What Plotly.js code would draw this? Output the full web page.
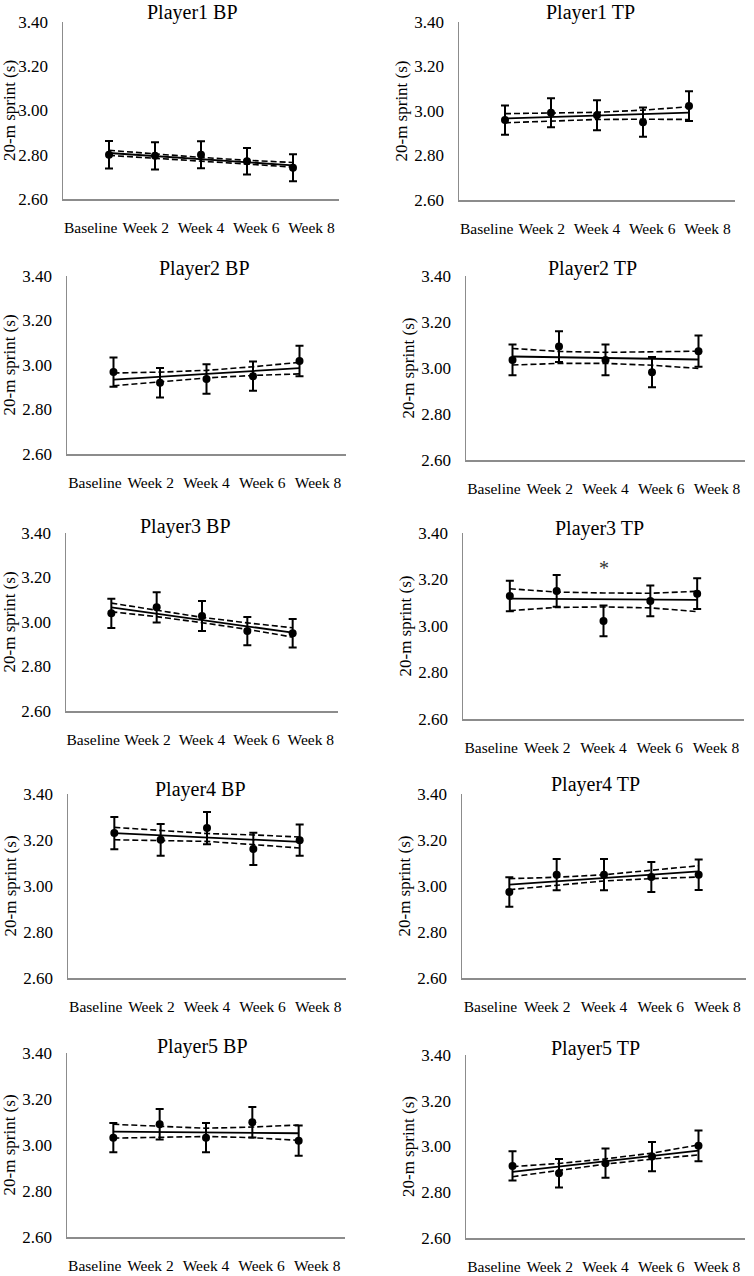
<!DOCTYPE html>
<html><head><meta charset="utf-8">
<script src="https://cdn.plot.ly/plotly-3.0.1.min.js"></script>
<style>html,body{margin:0;padding:0;background:#fff}#chart{width:754px;height:1276px}</style>
</head><body><div id="chart"></div>
<script>
// ---------------- DATA ----------------
const categories = ['Baseline', 'Week 2', 'Week 4', 'Week 6', 'Week 8'];
const timepoints = [1, 2, 3, 4, 5];
const panelTitles = ['Player1 BP', 'Player1 TP', 'Player2 BP', 'Player2 TP', 'Player3 BP',
                     'Player3 TP', 'Player4 BP', 'Player4 TP', 'Player5 BP', 'Player5 TP'];
const yTickValues = [2.6, 2.8, 3.0, 3.2, 3.4];
const yAxisTitle = '20-m sprint (s)';

// Player1 BP
const p1bpMean  = [2.800, 2.795, 2.800, 2.771, 2.741];
const p1bpErr   = [0.062, 0.062, 0.061, 0.060, 0.061];
const p1bpFit   = [2.808, 2.794, 2.780, 2.766, 2.752];
const p1bpUpper = [2.820, 2.803, 2.788, 2.775, 2.765];
const p1bpLower = [2.797, 2.785, 2.772, 2.758, 2.744];
// Player1 TP
const p1tpMean  = [2.959, 2.992, 2.981, 2.950, 3.022];
const p1tpErr   = [0.066, 0.065, 0.067, 0.066, 0.067];
const p1tpFit   = [2.966, 2.973, 2.980, 2.986, 2.993];
const p1tpUpper = [2.988, 2.990, 2.994, 3.004, 3.019];
const p1tpLower = [2.947, 2.955, 2.962, 2.963, 2.962];
// Player2 BP
const p2bpMean  = [2.968, 2.920, 2.937, 2.950, 3.018];
const p2bpErr   = [0.066, 0.066, 0.066, 0.066, 0.068];
const p2bpFit   = [2.934, 2.947, 2.960, 2.973, 2.986];
const p2bpUpper = [2.964, 2.968, 2.976, 2.992, 3.012];
const p2bpLower = [2.907, 2.925, 2.942, 2.953, 2.960];
// Player2 TP
const p2tpMean  = [3.035, 3.093, 3.035, 2.982, 3.073];
const p2tpErr   = [0.067, 0.067, 0.067, 0.066, 0.068];
const p2tpFit   = [3.050, 3.047, 3.044, 3.040, 3.037];
const p2tpUpper = [3.085, 3.072, 3.068, 3.070, 3.073];
const p2tpLower = [3.013, 3.020, 3.020, 3.012, 2.998];
// Player3 BP
const p3bpMean  = [3.039, 3.066, 3.027, 2.959, 2.949];
const p3bpErr   = [0.066, 0.068, 0.067, 0.063, 0.064];
const p3bpFit   = [3.066, 3.038, 3.009, 2.981, 2.952];
const p3bpUpper = [3.085, 3.053, 3.021, 2.996, 2.974];
const p3bpLower = [3.046, 3.024, 2.997, 2.967, 2.932];
// Player3 TP
const p3tpMean  = [3.129, 3.151, 3.022, 3.108, 3.139];
const p3tpErr   = [0.066, 0.068, 0.066, 0.066, 0.066];
const p3tpFit   = [3.118, 3.116, 3.115, 3.113, 3.112];
const p3tpUpper = [3.160, 3.146, 3.142, 3.141, 3.149];
const p3tpLower = [3.066, 3.080, 3.082, 3.078, 3.062];
const p3tpMarkText = '*';
const p3tpMarkX = 3;
const p3tpMarkY = 3.25;
// Player4 BP
const p4bpMean  = [3.230, 3.201, 3.252, 3.161, 3.199];
const p4bpErr   = [0.070, 0.069, 0.070, 0.070, 0.068];
const p4bpFit   = [3.230, 3.221, 3.211, 3.202, 3.192];
const p4bpUpper = [3.255, 3.240, 3.228, 3.222, 3.213];
const p4bpLower = [3.201, 3.199, 3.194, 3.180, 3.165];
// Player4 TP
const p4tpMean  = [2.974, 3.049, 3.049, 3.039, 3.049];
const p4tpErr   = [0.064, 0.068, 0.068, 0.065, 0.066];
const p4tpFit   = [3.006, 3.020, 3.035, 3.049, 3.064];
const p4tpUpper = [3.032, 3.038, 3.049, 3.067, 3.088];
const p4tpLower = [2.984, 3.003, 3.022, 3.032, 3.039];
// Player5 BP
const p5bpMean  = [3.032, 3.090, 3.032, 3.099, 3.019];
const p5bpErr   = [0.064, 0.066, 0.064, 0.066, 0.066];
const p5bpFit   = [3.058, 3.056, 3.055, 3.053, 3.051];
const p5bpUpper = [3.090, 3.080, 3.073, 3.078, 3.087];
const p5bpLower = [3.030, 3.035, 3.037, 3.032, 3.020];
// Player5 TP
const p5tpMean  = [2.915, 2.883, 2.927, 2.956, 3.003];
const p5tpErr   = [0.064, 0.062, 0.064, 0.064, 0.067];
const p5tpFit   = [2.889, 2.912, 2.935, 2.958, 2.982];
const p5tpUpper = [2.912, 2.926, 2.946, 2.971, 3.007];
const p5tpLower = [2.868, 2.895, 2.923, 2.945, 2.963];

const panelMeans  = [p1bpMean, p1tpMean, p2bpMean, p2tpMean, p3bpMean, p3tpMean, p4bpMean, p4tpMean, p5bpMean, p5tpMean];
const panelErrs   = [p1bpErr, p1tpErr, p2bpErr, p2tpErr, p3bpErr, p3tpErr, p4bpErr, p4tpErr, p5bpErr, p5tpErr];
const panelFits   = [p1bpFit, p1tpFit, p2bpFit, p2tpFit, p3bpFit, p3tpFit, p4bpFit, p4tpFit, p5bpFit, p5tpFit];
const panelUppers = [p1bpUpper, p1tpUpper, p2bpUpper, p2tpUpper, p3bpUpper, p3tpUpper, p4bpUpper, p4tpUpper, p5bpUpper, p5tpUpper];
const panelLowers = [p1bpLower, p1tpLower, p2bpLower, p2tpLower, p3bpLower, p3tpLower, p4bpLower, p4tpLower, p5bpLower, p5tpLower];

// ---------------- LAYOUT CONFIG ----------------
const W = 754, H = 1276;
const FONT = 'Liberation Serif, Times New Roman, serif';
// plot boxes in px: [left, right, top, bottom]
const boxes = [[63,339,22,199],[459,735,22,200],[67,346,276,454],[466,745,276,460],[66,338,533,711],
               [463,744,533,719],[68,346,794,978],[462,746,794,978],[67,345,1053,1237],[466,745,1055,1238]];
// title centre x and top y, in px
const titlePos = [[192,0],[590,0],[205,256],[592,256],[185,514],[599,516],[200,777],[595,772],[202,1034],[595,1036]];
const catTickPos = [0.6, 1.8, 3.0, 4.2, 5.4];

const data = [];
const layout = {
  width: W, height: H,
  margin: {l: 0, r: 0, t: 0, b: 0},
  paper_bgcolor: '#fff', plot_bgcolor: '#fff',
  showlegend: false,
  font: {family: FONT, color: '#000'},
  annotations: []
};

for (let i = 0; i < 10; i++) {
  const n = i + 1;
  const xa = n === 1 ? 'x' : 'x' + n;
  const ya = n === 1 ? 'y' : 'y' + n;
  const lineStyle = {color: '#000', width: 1.6, dash: '6px,3px'};
  data.push({x: timepoints, y: panelUppers[i], xaxis: xa, yaxis: ya, mode: 'lines', line: lineStyle, hoverinfo: 'skip'});
  data.push({x: timepoints, y: panelLowers[i], xaxis: xa, yaxis: ya, mode: 'lines', line: lineStyle, hoverinfo: 'skip'});
  data.push({x: timepoints, y: panelFits[i], xaxis: xa, yaxis: ya, mode: 'lines', line: {color: '#000', width: 1.8}, hoverinfo: 'skip'});
  data.push({x: timepoints, y: panelMeans[i], xaxis: xa, yaxis: ya, mode: 'markers',
    marker: {color: '#000', size: 8},
    error_y: {type: 'data', array: panelErrs[i], visible: true, color: '#000', thickness: 2, width: 4}});

  const b = boxes[i];
  layout['xaxis' + (n === 1 ? '' : n)] = {
    domain: [b[0] / W, b[1] / W], anchor: ya, range: [0, 6],
    showgrid: false, zeroline: false, showline: true, linecolor: '#8c8c8c', linewidth: 1.5,
    tickmode: 'array', tickvals: catTickPos, ticktext: categories, ticks: '',
    ticklabelstandoff: 14, tickangle: 0,
    tickfont: {family: FONT, size: 15.5, color: '#000'}, fixedrange: true
  };
  layout['yaxis' + (n === 1 ? '' : n)] = {
    domain: [1 - b[3] / H, 1 - b[2] / H], anchor: xa, range: [2.6, 3.4],
    showgrid: false, zeroline: false, showline: true, linecolor: '#8c8c8c', linewidth: 1.5,
    tickmode: 'array', tickvals: yTickValues, tickformat: '.2f', ticks: '',
    ticklabelstandoff: 10,
    tickfont: {family: FONT, size: 17, color: '#000'},
    title: {text: yAxisTitle, font: {family: FONT, size: 17, color: '#000'}, standoff: 2},
    fixedrange: true
  };
  const t = titlePos[i];
  layout.annotations.push({
    text: panelTitles[i], xref: 'paper', yref: 'paper', x: t[0] / W, y: 1 - t[1] / H,
    xanchor: 'center', yanchor: 'top', showarrow: false, borderpad: 0,
    font: {family: FONT, size: 20, color: '#000'}
  });
}
layout.annotations.push({
  text: p3tpMarkText, xref: 'x6', yref: 'y6', x: p3tpMarkX, y: p3tpMarkY,
  showarrow: false, font: {family: FONT, size: 20, color: '#333'}
});

Plotly.newPlot('chart', data, layout, {staticPlot: true, displayModeBar: false});
</script>
</body></html>
